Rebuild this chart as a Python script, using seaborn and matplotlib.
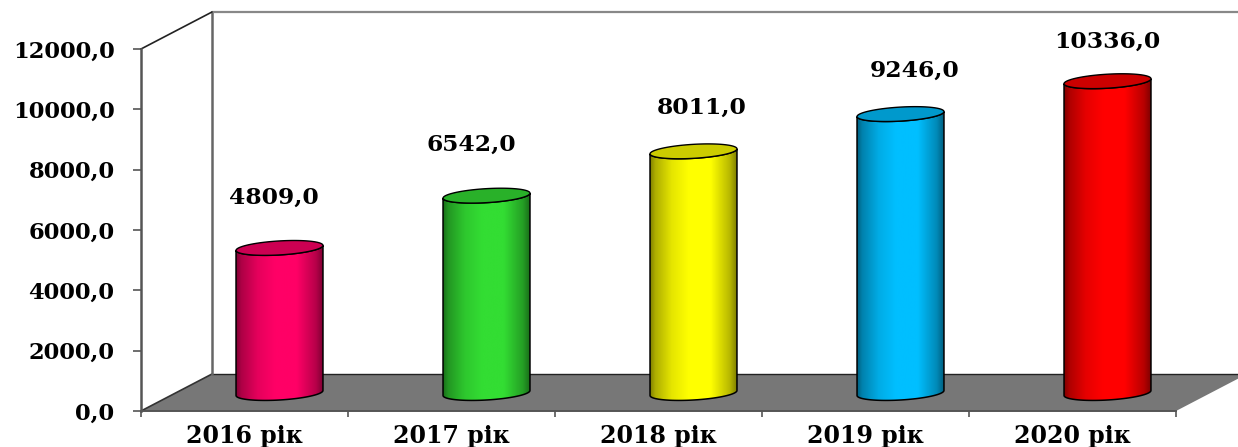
import numpy as np
import pandas as pd
import seaborn as sns
import matplotlib.pyplot as plt
from matplotlib.colors import LinearSegmentedColormap, to_rgb
from matplotlib.patches import Polygon

sns.set_theme(style="white")
plt.rcParams['font.family'] = ['DejaVu Serif', 'DejaVu Sans']
plt.rcParams['font.weight'] = 'bold'

years = ['2016 рік', '2017 рік', '2018 рік', '2019 рік', '2020 рік']
values = [4809.0, 6542.0, 8011.0, 9246.0, 10336.0]
y_ticks = [0, 2000, 4000, 6000, 8000, 10000, 12000]
colors = ['#FF0066', '#33DD33', '#FFFF00', '#00BFFF', '#FF0000']

# where the value labels sit relative to the bar top, in pixels
label_dx = [-6, -15, 8, 14, 0]
label_dy = [50, 51, 44, 43, 39]

W, H = 1238, 447
LEFT, RIGHT, TOP, BOTTOM = 141, 1176, 49, 411
YMAX = 12000
px_x = 5 / (RIGHT - LEFT)        # categories per pixel
px_y = YMAX / (BOTTOM - TOP)     # value units per pixel

depth_x = 71 * px_x
depth_y = 37 * px_y


def fmt(v):
    return f'{v:.1f}'.replace('.', ',')


df = pd.DataFrame({'year': years, 'value': values})

fig = plt.figure(figsize=(W / 100, H / 100), dpi=100)
ax = fig.add_axes([LEFT / W, 1 - BOTTOM / H, (RIGHT - LEFT) / W, (BOTTOM - TOP) / H])
# bars stand half way into the floor, so they get their own shifted axes
ax_bars = fig.add_axes([(LEFT + 35) / W, 1 - (BOTTOM - 18) / H, (RIGHT - LEFT) / W, (BOTTOM - TOP) / H])
ax_bars.patch.set_alpha(0)

sns.barplot(data=df, x='year', y='value', hue='year', palette=colors, width=0.42,
            saturation=1, legend=False, ax=ax_bars)
ax.set_xlim(-0.5, 4.5)
ax.set_ylim(0, YMAX)
ax_bars.set_xlim(-0.5, 4.5)
ax_bars.set_ylim(0, YMAX)
ax_bars.axis('off')

# frame: floor and walls
x0, x1 = -0.5, 4.5
ax.add_patch(Polygon([(x0, 0), (x0 + depth_x, depth_y), (x1 + depth_x, depth_y), (x1, 0)],
                     closed=True, fc='#777777', ec='none', clip_on=False, zorder=1))
ax.plot([x0 + depth_x, x1 + depth_x], [depth_y, depth_y], color='#222222', lw=1, clip_on=False, zorder=2)
ax.plot([x0, x0 + depth_x], [0, depth_y], color='#333333', lw=1.2, clip_on=False, zorder=2)
ax.plot([x0 + depth_x, x0 + depth_x], [depth_y, YMAX + depth_y], color='#666666', lw=1.8, clip_on=False, zorder=2)
ax.plot([x0 + depth_x, x1 + depth_x], [YMAX + depth_y, YMAX + depth_y], color='#888888', lw=1.6, clip_on=False, zorder=2)
ax.plot([x0, x0 + depth_x], [YMAX, YMAX + depth_y], color='#222222', lw=1.2, clip_on=False, zorder=2)

sns.despine(ax=ax, top=True, right=True)
ax.spines['left'].set_color('#555555')
ax.spines['left'].set_linewidth(1.8)
ax.spines['bottom'].set_color('#555555')
ax.spines['bottom'].set_linewidth(1.4)
ax.set_yticks(y_ticks)
ax.set_yticklabels([fmt(v) for v in y_ticks], fontsize=16.3, fontweight='bold', color='black')
ax.set_xticks(np.arange(-0.5, 5))
ax.set_xticklabels([])
ax.set_xticks(range(len(years)), labels=years, minor=True, fontsize=17, fontweight='bold', color='black')
ax.tick_params(axis='y', length=6, width=1.2, color='#555555', pad=13, left=True)
ax.tick_params(axis='x', which='major', length=4.5, width=1.2, color='#555555', bottom=True)
ax.tick_params(axis='x', which='minor', length=0, pad=9.5)
ax.set_xlabel('')
ax.set_ylabel('')

# cylinders, built on what seaborn drew
rx_half = 0.21
ry = 7 * px_y
tilt = 2.5 * px_y / rx_half
t = np.linspace(0, np.pi, 60)
stops = [0, 0.06, 0.25, 0.45, 0.7, 0.92, 1]
levels = [0.5, 0.68, 0.9, 1, 1, 0.72, 0.5]
for i, (patch, c) in enumerate(zip(ax_bars.patches, colors)):
    cx = patch.get_x() + patch.get_width() / 2
    v = patch.get_height()
    rgb = np.array(to_rgb(c))
    patch.set_facecolor('none')
    patch.set_edgecolor('none')

    ex = rx_half * np.cos(t)
    # lower half of base and of top ellipse, bounding the side of the cylinder
    base = np.c_[cx + ex[::-1], -ry * np.sin(t[::-1]) + tilt * ex[::-1]]
    top = np.c_[cx + ex, v - ry * np.sin(t) + tilt * ex]
    ax_bars.add_patch(Polygon(np.r_[base, top], closed=True, fc='none', ec='black', lw=1.1,
                              clip_on=False, zorder=4))

    cmap = LinearSegmentedColormap.from_list(f'cyl{i}', [(s, rgb * l) for s, l in zip(stops, levels)])
    im = ax_bars.imshow(np.linspace(0, 1, 256)[None, :], cmap=cmap, aspect='auto', zorder=3,
                        extent=(cx - rx_half, cx + rx_half, -2 * ry, v + 2 * ry))
    im.set_clip_box(fig.bbox)
    im.set_clip_path(Polygon(np.r_[base, top], closed=True, transform=ax_bars.transData))

    lid = np.r_[top, np.c_[cx + ex[::-1], v + ry * np.sin(t[::-1]) + tilt * ex[::-1]]]
    ax_bars.add_patch(Polygon(lid, closed=True, fc=rgb * 0.8, ec='black', lw=1.0, clip_on=False, zorder=5))

    ax_bars.annotate(fmt(v), (cx, v), xytext=(label_dx[i] * 0.72, label_dy[i] * 0.72), textcoords='offset points',
                     ha='center', va='center', fontsize=16.8, fontweight='bold', color='black',
                     annotation_clip=False, zorder=6)

ax_bars.set_xlim(-0.5, 4.5)
ax_bars.set_ylim(0, YMAX)

plt.savefig('out.png', dpi=100)
